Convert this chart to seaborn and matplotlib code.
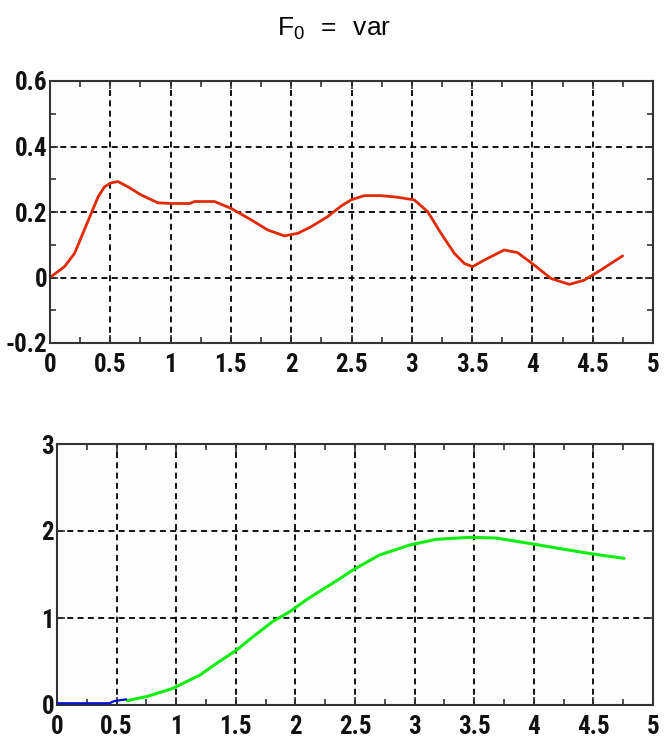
import matplotlib
matplotlib.use("Agg")
import matplotlib.pyplot as plt
import seaborn as sns
import pandas as pd
from matplotlib.ticker import MultipleLocator
from matplotlib import font_manager

# ---- data ----
top_x = [0.0, 0.12, 0.204, 0.273, 0.342, 0.40, 0.452, 0.508, 0.563, 0.646, 0.756, 0.895,
         1.005, 1.157, 1.198, 1.364, 1.502, 1.668, 1.806, 1.944, 2.055, 2.165, 2.303,
         2.413, 2.496, 2.606, 2.745, 2.883, 3.02, 3.132, 3.242, 3.352, 3.435, 3.504,
         3.60, 3.766, 3.877, 4.015, 4.154, 4.306, 4.43, 4.568, 4.748]
top_y = [0.0, 0.033, 0.074, 0.135, 0.196, 0.247, 0.277, 0.289, 0.293, 0.277, 0.252, 0.228,
         0.226, 0.226, 0.232, 0.232, 0.211, 0.176, 0.145, 0.127, 0.135, 0.155, 0.186,
         0.218, 0.237, 0.25, 0.25, 0.245, 0.237, 0.201, 0.135, 0.074, 0.043, 0.033,
         0.053, 0.084, 0.076, 0.038, -0.003, -0.021, -0.008, 0.023, 0.066]

blue_x = [0.0, 0.44, 0.48, 0.58]
blue_y = [0.02, 0.02, 0.045, 0.065]

green_x = [0.59, 0.75, 0.97, 1.20, 1.34, 1.505, 1.645, 1.81, 1.95, 2.09, 2.23, 2.356,
           2.48, 2.705, 2.96, 3.18, 3.46, 3.68, 3.96, 4.21, 4.46, 4.60, 4.757]
green_y = [0.05, 0.096, 0.19, 0.345, 0.48, 0.63, 0.785, 0.96, 1.07, 1.207, 1.33, 1.437,
           1.55, 1.724, 1.839, 1.904, 1.927, 1.92, 1.858, 1.80, 1.743, 1.715, 1.686]

x_ticks = [0, 0.5, 1, 1.5, 2, 2.5, 3, 3.5, 4, 4.5, 5]
x_ticklabels = ["0", "0.5", "1", "1.5", "2", "2.5", "3", "3.5", "4", "4.5", "5"]
top_yticks = [-0.2, 0, 0.2, 0.4, 0.6]
top_yticklabels = ["-0.2", "0", "0.2", "0.4", "0.6"]
bot_yticks = [0, 1, 2, 3]
bot_yticklabels = ["0", "1", "2", "3"]

# ---- style ----
sns.set_theme(style="white")
avail = {f.name for f in font_manager.fontManager.ttflist}
tick_family = [f for f in ["Liberation Sans Narrow", "DejaVu Sans Condensed", "Roboto Condensed",
                           "Open Sans Condensed", "Liberation Sans", "DejaVu Sans"] if f in avail]
plt.rcParams['font.family'] = ['Liberation Sans', 'DejaVu Sans']
plt.rcParams['mathtext.fontset'] = 'custom'
plt.rcParams['mathtext.rm'] = 'Liberation Sans'
plt.rcParams['mathtext.it'] = 'Liberation Sans'
plt.rcParams['mathtext.default'] = 'regular'

fig = plt.figure(figsize=(6.65, 7.42), dpi=100)
ax1 = fig.add_axes([50/665, 1-343/742, 603/665, 262/742])
ax2 = fig.add_axes([57/665, 1-705/742, 596/665, 261/742])

df_top = pd.DataFrame({"t": top_x, "v": top_y})
df_blue = pd.DataFrame({"t": blue_x, "v": blue_y})
df_green = pd.DataFrame({"t": green_x, "v": green_y})

sns.lineplot(data=df_top, x="t", y="v", ax=ax1, color="#e02a08", linewidth=2.0, sort=False)
sns.lineplot(data=df_blue, x="t", y="v", ax=ax2, color="#0010d0", linewidth=1.6, sort=False,
             zorder=3)
sns.lineplot(data=df_green, x="t", y="v", ax=ax2, color="#10ee10", linewidth=2.2, sort=False)
for ax in (ax1, ax2):
    for ln in ax.get_lines():
        ln.set_solid_joinstyle("round")
        ln.set_solid_capstyle("round")

def style(ax, yticks, ylabels, ylim, yminor):
    ax.set_xlim(0, 5)
    ax.set_ylim(*ylim)
    ax.set_xticks(x_ticks)
    ax.set_xticklabels(x_ticklabels)
    ax.set_yticks(yticks)
    ax.set_yticklabels(ylabels)
    ax.xaxis.set_minor_locator(MultipleLocator(0.25))
    if yminor:
        ax.yaxis.set_minor_locator(MultipleLocator(yminor))
    ax.set_xlabel("")
    ax.set_ylabel("")
    ax.set_facecolor("#fdfdfd")
    ax.grid(True, which="major", color="black", linestyle=(0, (3.3, 2.4)), linewidth=1.3)
    ax.set_axisbelow(True)
    for s in ax.spines.values():
        s.set_color("#333333")
        s.set_linewidth(1.5)
    ax.tick_params(which="both", direction="in", top=True, right=True, bottom=True, left=True,
                   color="#333333", width=1.2)
    ax.tick_params(which="major", length=6)
    ax.tick_params(axis="x", which="major", pad=7)
    ax.tick_params(axis="y", which="major", pad=2)
    ax.tick_params(which="minor", length=4)
    for lab in ax.get_xticklabels() + ax.get_yticklabels():
        lab.set_family(tick_family)
        lab.set_fontweight("bold")
        lab.set_fontsize(18)
        lab.set_color("#111111")

style(ax1, top_yticks, top_yticklabels, (-0.2, 0.6), 0.1)
style(ax2, bot_yticks, bot_yticklabels, (0, 3), None)

fig.text(0.503, 1-29/742, r"$F_0\;\;=\;\;var$", ha="center", va="center", fontsize=19, color="black")

fig.savefig("out.png", dpi=100, facecolor="white")
